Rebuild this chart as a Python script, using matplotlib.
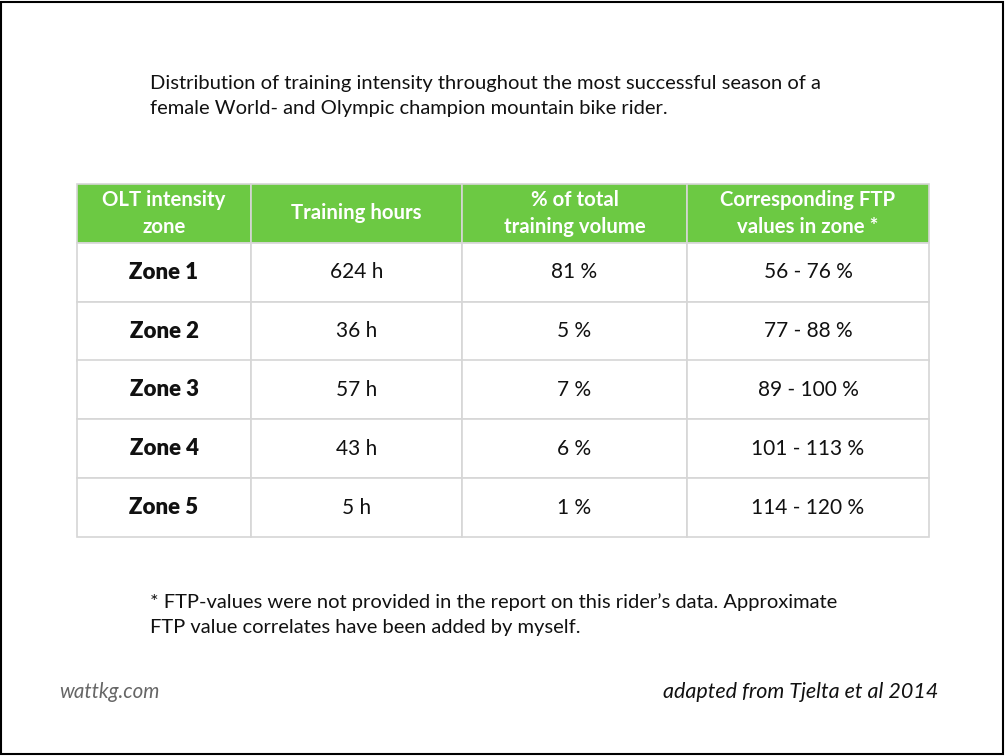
import matplotlib.pyplot as plt
from matplotlib.patches import Rectangle

plt.rcParams["font.family"] = ["Lato", "DejaVu Sans"]

# table data
zones = ["Zone 1", "Zone 2", "Zone 3", "Zone 4", "Zone 5"]
hours = [624, 36, 57, 43, 5]
share = [81, 5, 7, 6, 1]
ftp_low = [56, 77, 89, 101, 114]
ftp_high = [76, 88, 100, 113, 120]
headers = ["OLT intensity\nzone", "Training hours", "% of total\ntraining volume", "Corresponding FTP\nvalues in zone *"]

title = "Distribution of training intensity throughout the most successful season of a\nfemale World- and Olympic champion mountain bike rider."
note = "* FTP-values were not provided in the report on this rider\u2019s data. Approximate\nFTP value correlates have been added by myself."

W, H = 1006, 756
GREEN = "#6cc943"
GRID = "#d6d6d6"

fig = plt.figure(figsize=(W / 100, H / 100), dpi=100)
ax = fig.add_axes([0, 0, 1, 1])
ax.set_xlim(0, W)
ax.set_ylim(H, 0)
ax.axis("off")

# outer frame
ax.add_patch(Rectangle((1.5, 1.5), W - 4, H - 3.5, fill=False, edgecolor="black", linewidth=1.5))

ax.text(150, 96, title, fontsize=14.5, color="#111111", ha="left", va="center", linespacing=1.58)

rows = [[z, f"{h} h", f"{s} %", f"{lo} - {hi} %"] for z, h, s, lo, hi in zip(zones, hours, share, ftp_low, ftp_high)]
col_px = [174, 211, 225, 242]
tot = sum(col_px)
left, top, bottom = 77, 184, 537
tbl = ax.table(cellText=rows, colLabels=headers, cellLoc="center", colLoc="center",
               colWidths=[c / tot for c in col_px],
               bbox=[left / W, (H - bottom) / H, tot / W, (bottom - top) / H])
tbl.auto_set_font_size(False)
tbl.set_fontsize(15)
for (r, c), cell in tbl.get_celld().items():
    cell.set_edgecolor(GRID)
    cell.set_linewidth(1.2)
    txt = cell.get_text()
    if r == 0:
        cell.set_facecolor(GREEN)
        txt.set_color("white")
        txt.set_fontweight("bold")
        txt.set_fontsize(14.7)
        txt.set_linespacing(1.45)
    else:
        cell.set_facecolor("white")
        txt.set_color("#111111")
        if c == 0:
            txt.set_fontweight("heavy")
            txt.set_fontsize(16)

ax.text(150, 615, note, fontsize=14.5, color="#111111", ha="left", va="center", linespacing=1.58)

ax.text(59, 692, "wattkg.com", fontsize=14.8, color="#666666", style="italic", ha="left", va="center")
ax.text(938, 692, "adapted from Tjelta et al 2014", fontsize=15.5, color="#111111", style="italic", ha="right", va="center")

fig.savefig("out.png", dpi=100)
